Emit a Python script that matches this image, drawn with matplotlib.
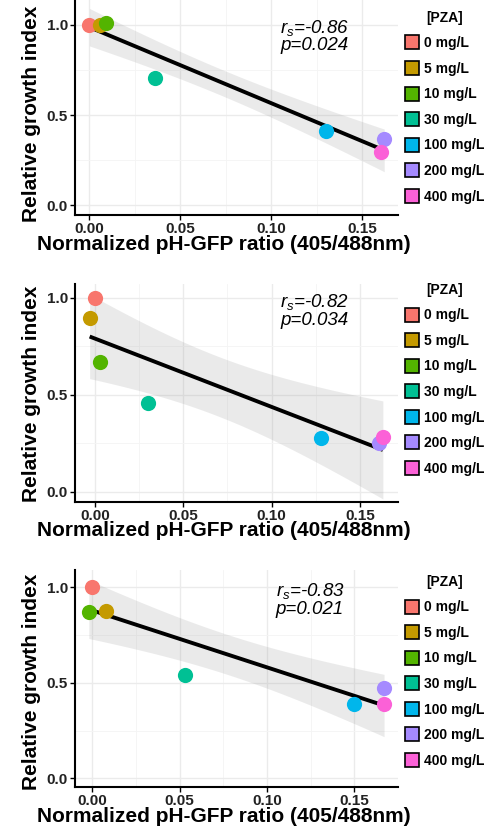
import numpy as np
import matplotlib
matplotlib.use("Agg")
import matplotlib.pyplot as plt
from matplotlib.lines import Line2D
from matplotlib.ticker import MultipleLocator, FormatStrFormatter

plt.rcParams['font.family'] = ['Liberation Sans', 'DejaVu Sans']
plt.rcParams['mathtext.fontset'] = 'custom'
plt.rcParams['mathtext.it'] = 'Liberation Sans:italic'
plt.rcParams['mathtext.rm'] = 'Liberation Sans'

# === Data ===
conc_labels = ['0 mg/L', '5 mg/L', '10 mg/L', '30 mg/L', '100 mg/L', '200 mg/L', '400 mg/L']
conc_colors = ['#F8766D', '#C49A00', '#53B400', '#00C094', '#00B6EB', '#A58AFF', '#FB61D7']

ratio_a = [0.000, 0.006, 0.009, 0.036, 0.130, 0.162, 0.160]
growth_a = [1.000, 1.000, 1.013, 0.704, 0.412, 0.366, 0.297]
ratio_b = [0.000, -0.003, 0.003, 0.030, 0.128, 0.161, 0.163]
growth_b = [1.000, 0.895, 0.672, 0.457, 0.277, 0.254, 0.282]
ratio_c = [0.000, 0.008, -0.002, 0.053, 0.150, 0.167, 0.167]
growth_c = [1.000, 0.877, 0.869, 0.541, 0.387, 0.471, 0.387]

rs_vals = ['-0.86', '-0.82', '-0.83']
p_vals = ['0.024', '0.034', '0.021']

panels = [(ratio_a, growth_a), (ratio_b, growth_b), (ratio_c, growth_c)]

# layout (figure fractions) and axis ranges per panel
boxes = [(0.1537, 0.7416, 0.662, 0.262),
         (0.1537, 0.3970, 0.662, 0.2617),
         (0.1537, 0.0537, 0.662, 0.2612)]
xlims = [(-0.0079, 0.1696), (-0.0113, 0.1716), (-0.0099, 0.1750)]
ylims = [(-0.054, 1.155), (-0.050, 1.072), (-0.047, 1.090)]
legend_y = [0.987, 0.660, 0.309]
ylabel_y = [0.463, 0.497, 0.485]

T975 = 2.5706  # t quantile, df = 5

fig = plt.figure(figsize=(4.88, 8.32), dpi=100)

for i, (xv, yv) in enumerate(panels):
    ax = fig.add_axes(boxes[i])
    x = np.array(xv)
    y = np.array(yv)

    # linear fit with 95% confidence band
    b, a = np.polyfit(x, y, 1)
    n = len(x)
    resid = y - (a + b * x)
    s = np.sqrt(np.sum(resid ** 2) / (n - 2))
    sxx = np.sum((x - x.mean()) ** 2)
    xs = np.linspace(x.min(), x.max(), 100)
    fit = a + b * xs
    se = s * np.sqrt(1 / n + (xs - x.mean()) ** 2 / sxx)
    ax.fill_between(xs, fit - T975 * se, fit + T975 * se, color='#999999', alpha=0.2, lw=0, zorder=2)
    ax.plot(xs, fit, color='black', lw=2.8, zorder=3, solid_capstyle='butt')

    for xi, yi, c in zip(x, y, conc_colors):
        ax.scatter(xi, yi, s=120, color=c, lw=0, zorder=4)

    ax.text(0.105, 0.955, r'$r_s$=' + rs_vals[i], style='italic', fontsize=13.5,
            va='baseline', zorder=5)
    ax.text(0.105, 0.86, 'p=' + p_vals[i], style='italic', fontsize=13.5,
            va='baseline', zorder=5)

    ax.set_xlim(*xlims[i])
    ax.set_ylim(*ylims[i])
    ax.xaxis.set_major_locator(MultipleLocator(0.05))
    ax.xaxis.set_minor_locator(MultipleLocator(0.025))
    ax.yaxis.set_major_locator(MultipleLocator(0.5))
    ax.yaxis.set_minor_locator(MultipleLocator(0.25))
    ax.xaxis.set_major_formatter(FormatStrFormatter('%.2f'))
    ax.yaxis.set_major_formatter(FormatStrFormatter('%.1f'))
    ax.grid(which='major', color='#EBEBEB', lw=1.0, zorder=0)
    ax.grid(which='minor', color='#F4F4F4', lw=0.6, zorder=0)
    ax.set_axisbelow(True)

    for side in ['top', 'right']:
        ax.spines[side].set_visible(False)
    for side in ['left', 'bottom']:
        ax.spines[side].set_linewidth(1.5)
        ax.spines[side].set_color('black')
    ax.tick_params(which='major', length=3.5, width=1, color='black', pad=1.5,
                   labelsize=11, labelcolor='#222222')
    ax.tick_params(which='minor', length=0)
    for lab in ax.get_xticklabels() + ax.get_yticklabels():
        lab.set_fontweight('bold')

    ax.set_xlabel('Normalized pH-GFP ratio (405/488nm)', fontsize=15, fontweight='bold')
    ax.set_ylabel('Relative growth index', fontsize=15, fontweight='bold')
    ax.xaxis.set_label_coords(0.461, -0.09)
    ax.yaxis.set_label_coords(-0.104, ylabel_y[i])

    handles = [Line2D([], [], ls='none', marker='s', markersize=9.5, markerfacecolor=c,
                      markeredgecolor='black', markeredgewidth=1.2) for c in conc_colors]
    leg = ax.legend(handles, conc_labels, title='[PZA]', loc='upper left',
                    bbox_to_anchor=(0.830, legend_y[i]), bbox_transform=fig.transFigure,
                    frameon=False, borderpad=0, borderaxespad=0, handlelength=1.0,
                    handletextpad=0.35, labelspacing=0.83,
                    prop={'weight': 'bold', 'size': 10})
    leg.get_title().set_fontweight('bold')
    leg.get_title().set_fontsize(10)

fig.savefig('out.png', dpi=100)
